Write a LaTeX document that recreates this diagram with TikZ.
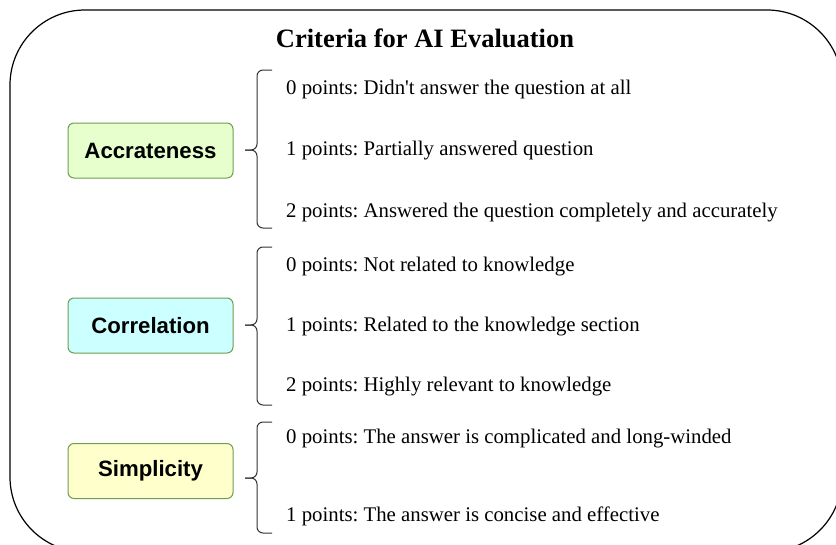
\documentclass[tikz,border=0pt]{standalone}
\usepackage{fontspec}
\setmainfont[Ligatures=NoCommon]{Liberation Serif}
\newfontfamily\boxfont{Liberation Sans}
\frenchspacing
\begin{document}
\begin{tikzpicture}[x=1pt,y=-1pt,
  crit/.style={draw=critborder, line width=1pt, rounded corners=6pt,
    minimum width=165pt, minimum height=55pt, font=\boxfont\bfseries\fontsize{22.2}{26}\selectfont},
  item/.style={anchor=west, inner sep=0pt, font=\fontsize{20.8}{24}\selectfont},
  bracestyle/.style={draw=black!80, line width=1pt, rounded corners=6pt}]
\definecolor{critborder}{HTML}{6D9F4F}
\definecolor{fillA}{HTML}{E6FFCC}
\definecolor{fillB}{HTML}{CCFFFF}
\definecolor{fillC}{HTML}{FFFFCC}
\useasboundingbox (0,0) rectangle (836,544);
\begin{scope}
\clip (0,0) rectangle (836,544);
\draw[line width=1.2pt, rounded corners=75pt] (10,10) rectangle (842,552);
\end{scope}
\node[font=\bfseries\fontsize{26.5}{30}\selectfont, inner sep=0pt] (title) at (425,38) {Criteria for AI Evaluation};
% criteria boxes
\node[crit, fill=fillA] (acc) at (150.5,150.5) {Accrateness};
\node[crit, fill=fillB] (cor) at (150.5,325.5) {Correlation};
\node[crit, fill=fillC] (sim) at (150.5,471) {Simplicity};
% braces
\coordinate (accTip) at (245,150);
\draw[bracestyle] (272,70) -- (257,70) -- (257,150) -- (accTip);
\draw[bracestyle] (272,228) -- (257,228) -- (257,150) -- (accTip);
\coordinate (corTip) at (245,325);
\draw[bracestyle] (272,247) -- (257,247) -- (257,325) -- (corTip);
\draw[bracestyle] (272,405) -- (257,405) -- (257,325) -- (corTip);
\coordinate (simTip) at (245,478);
\draw[bracestyle] (272,422) -- (257,422) -- (257,478) -- (simTip);
\draw[bracestyle] (272,533) -- (257,533) -- (257,478) -- (simTip);
% items
\node[item] (a0) at (286,89) {0 points: Didn\textquotesingle t answer the question at all};
\node[item] (a1) at (286,151) {1 points: Partially answered question};
\node[item] (a2) at (286,213) {2 points: Answered the question completely and accurately};
\node[item] (c0) at (286,267) {0 points: Not related to knowledge};
\node[item] (c1) at (286,327) {1 points: Related to the knowledge section};
\node[item] (c2) at (286,387) {2 points: Highly relevant to knowledge};
\node[item] (s0) at (286,439) {0 points: The answer is complicated and long-winded};
\node[item] (s1) at (286,516) {1 points: The answer is concise and effective};
\end{tikzpicture}
\end{document}
